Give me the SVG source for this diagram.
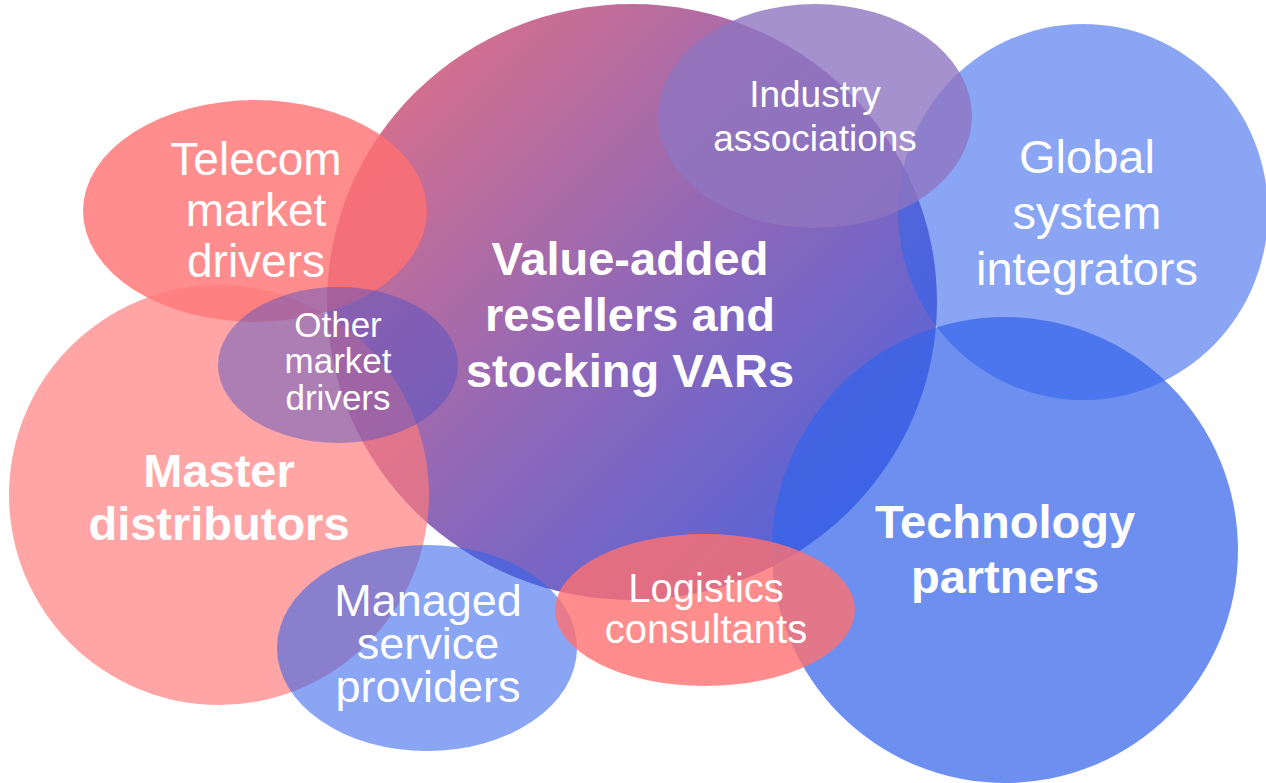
<svg xmlns="http://www.w3.org/2000/svg" width="1266" height="783" viewBox="0 0 1266 783">
  <defs>
    <linearGradient id="varGrad" gradientUnits="userSpaceOnUse" x1="380" y1="60" x2="880" y2="560">
      <stop offset="0" stop-color="#DC7088"/>
      <stop offset="0.5" stop-color="#9068B8"/>
      <stop offset="1" stop-color="#4C62DC"/>
    </linearGradient>
  </defs>
  <style>
    text { fill: #ffffff; font-family: "Liberation Sans", Arial, sans-serif; text-anchor: middle; }
    .b { font-weight: bold; font-size: 47px; }
    .red { fill: #FF7070; fill-opacity: 0.8; }
    .pink { fill: #FF7A7A; fill-opacity: 0.68; }
    .lblue { fill: #3464EA; fill-opacity: 0.58; }
    .mblue { fill: #3464EA; fill-opacity: 0.72; }
    .purple { fill: #8E75C0; fill-opacity: 0.8; }
    .violet { fill: #4A50C8; fill-opacity: 0.45; }
  </style>
  <rect width="1266" height="783" fill="#ffffff"/>

  <g id="var">
    <ellipse cx="632" cy="302" rx="305" ry="298" fill="url(#varGrad)"/>
  </g>
  <g id="telecom">
    <ellipse class="red" cx="255" cy="211" rx="172" ry="111"/>
  </g>
  <g id="master">
    <circle class="pink" cx="219" cy="495" r="210"/>
  </g>
  <g id="global">
    <ellipse class="lblue" cx="1083" cy="212" rx="185" ry="188"/>
  </g>
  <g id="industry">
    <ellipse class="purple" cx="815" cy="116" rx="157" ry="112"/>
  </g>
  <g id="tech">
    <circle class="mblue" cx="1005" cy="550" r="233"/>
  </g>
  <g id="other">
    <ellipse class="violet" cx="338" cy="365" rx="120" ry="78"/>
  </g>
  <g id="managed">
    <ellipse class="lblue" cx="427" cy="648" rx="150" ry="103"/>
  </g>
  <g id="logistics">
    <ellipse class="red" cx="705" cy="610" rx="150" ry="76"/>
  </g>

  <g id="connectors"></g>

  <g id="labels">
    <text font-size="46"><tspan x="256" y="175">Telecom</tspan><tspan x="256" y="226">market</tspan><tspan x="256" y="277">drivers</tspan></text>
    <text class="b"><tspan x="630" y="275">Value-added</tspan><tspan x="630" y="331">resellers and</tspan><tspan x="630" y="387">stocking VARs</tspan></text>
    <text font-size="37"><tspan x="815" y="107">Industry</tspan><tspan x="815" y="151">associations</tspan></text>
    <text font-size="47"><tspan x="1087" y="173">Global</tspan><tspan x="1087" y="229">system</tspan><tspan x="1087" y="285">integrators</tspan></text>
    <text font-size="35"><tspan x="338" y="337">Other</tspan><tspan x="338" y="373">market</tspan><tspan x="338" y="410">drivers</tspan></text>
    <text class="b"><tspan x="219" y="487">Master</tspan><tspan x="219" y="540">distributors</tspan></text>
    <text class="b"><tspan x="1005" y="538">Technology</tspan><tspan x="1005" y="593">partners</tspan></text>
    <text font-size="45"><tspan x="428" y="616">Managed</tspan><tspan x="428" y="659">service</tspan><tspan x="428" y="702">providers</tspan></text>
    <text font-size="40"><tspan x="706" y="602">Logistics</tspan><tspan x="706" y="643">consultants</tspan></text>
  </g>
</svg>
